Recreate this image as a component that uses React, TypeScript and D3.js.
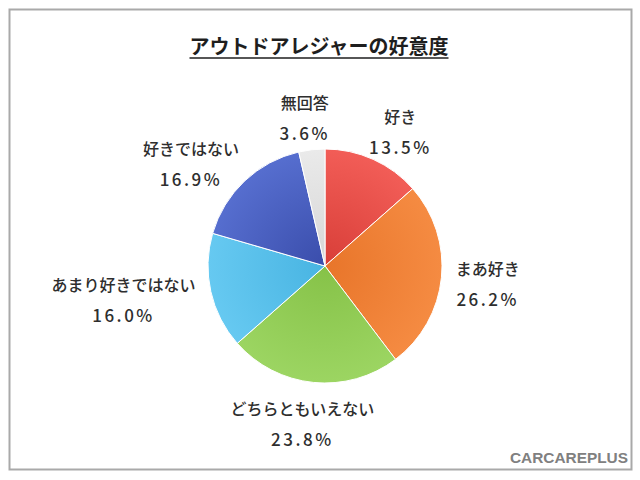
import { useEffect, useRef } from "react";
import * as d3 from "d3";

const categories = ["好き", "まあ好き", "どちらともいえない", "あまり好きではない", "好きではない", "無回答"];
const values = [13.5, 26.2, 23.8, 16.0, 16.9, 3.6];
const title = "アウトドアレジャーの好意度";

// inner (center) / outer (edge) shades per slice
const innerColors = ["#d83e38", "#e8752a", "#86c248", "#48b4e2", "#3a4dab", "#d6d6d6"];
const outerColors = ["#f25d57", "#f58b42", "#9cd562", "#66c9f1", "#566ecf", "#eaeaea"];

export default function App() {
  const svgRef = useRef<SVGSVGElement>(null);

  useEffect(() => {
    if (!svgRef.current) return;
    const svg = d3.select(svgRef.current);
    svg.selectAll("*").remove();

    const width = 640;
    const height = 480;
    const cx = 325;
    const cy = 266;
    const r = 117;
    const font = "'Noto Sans CJK JP', 'Noto Sans', sans-serif";
    const textColor = "#2e2e2e";

    svg.append("rect").attr("width", width).attr("height", height).attr("fill", "#ffffff");
    svg
      .append("rect")
      .attr("x", 9.5)
      .attr("y", 9.5)
      .attr("width", 622)
      .attr("height", 460)
      .attr("fill", "none")
      .attr("stroke", "#a9a9a9")
      .attr("stroke-width", 2);

    // Title
    const t = svg
      .append("text")
      .attr("x", 319)
      .attr("y", 54)
      .attr("text-anchor", "middle")
      .attr("font-family", font)
      .attr("font-weight", "bold")
      .attr("font-size", 20)
      .attr("fill", "#1e1e1e")
      .text(title);
    const tb = (t.node() as SVGTextElement).getBBox();
    svg
      .append("line")
      .attr("x1", tb.x)
      .attr("x2", tb.x + tb.width)
      .attr("y1", 58)
      .attr("y2", 58)
      .attr("stroke", "#1e1e1e")
      .attr("stroke-width", 1.5);

    const data = categories.map((c, i) => ({ name: c, value: values[i], i }));
    const pie = d3
      .pie<(typeof data)[0]>()
      .sort(null)
      .value((d) => d.value);
    const arcs = pie(data);
    const arc = d3
      .arc<d3.PieArcDatum<(typeof data)[0]>>()
      .innerRadius(0)
      .outerRadius(r);

    // gradients live in the pie group's local space (origin = pie center)
    const defs = svg.append("defs");
    data.forEach((d) => {
      const g = defs
        .append("radialGradient")
        .attr("id", `slice-${d.i}`)
        .attr("gradientUnits", "userSpaceOnUse")
        .attr("cx", 0)
        .attr("cy", 0)
        .attr("r", r);
      g.append("stop").attr("offset", "0%").attr("stop-color", innerColors[d.i]);
      g.append("stop").attr("offset", "100%").attr("stop-color", outerColors[d.i]);
    });

    const pg = svg.append("g").attr("transform", `translate(${cx},${cy})`);
    pg.selectAll("path")
      .data(arcs)
      .join("path")
      .attr("d", arc)
      .attr("fill", (d) => `url(#slice-${d.data.i})`)
      .attr("stroke", "#ffffff")
      .attr("stroke-width", 1);

    // Labels placed outside end of each slice
    const lineGap = 31;
    arcs.forEach((a) => {
      const theta = (a.startAngle + a.endAngle) / 2;
      const s = Math.sin(theta);
      const c = Math.cos(theta);
      const lg = svg.append("g");
      const nameT = lg
        .append("text")
        .attr("text-anchor", "middle")
        .attr("font-family", font)
        .attr("font-weight", 500)
        .attr("font-size", 16)
        .attr("fill", textColor)
        .attr("y", -lineGap / 2 + 11)
        .text(a.data.name);
      const pctT = lg
        .append("text")
        .attr("text-anchor", "middle")
        .attr("font-family", font)
        .attr("font-weight", 500)
        .attr("font-size", 17)
        .attr("letter-spacing", 2.5)
        .attr("fill", textColor)
        .attr("y", lineGap / 2 + 11)
        .text(`${a.data.value.toFixed(1)}%`);
      const w = Math.max(
        (nameT.node() as SVGTextElement).getComputedTextLength(),
        (pctT.node() as SVGTextElement).getComputedTextLength()
      );
      const hw = w / 2;
      const hh = 25;
      const rad = r + 12 + hh * Math.abs(c);
      const x = cx + rad * s + hw * s;
      const y = cy - rad * c;
      lg.attr("transform", `translate(${x},${y})`);
    });

    // Logo
    svg
      .append("text")
      .attr("x", 510)
      .attr("y", 463)
      .attr("font-family", "'Liberation Sans', Arial, sans-serif")
      .attr("font-weight", "bold")
      .attr("font-size", 15)
      .attr("textLength", 118)
      .attr("lengthAdjust", "spacingAndGlyphs")
      .attr("fill", "#808080")
      .text("CARCAREPLUS");
  }, []);

  return (
    <div style={{ position: "absolute", left: 0, top: 0 }}>
      <svg ref={svgRef} width={640} height={480} style={{ display: "block" }} />
    </div>
  );
}
